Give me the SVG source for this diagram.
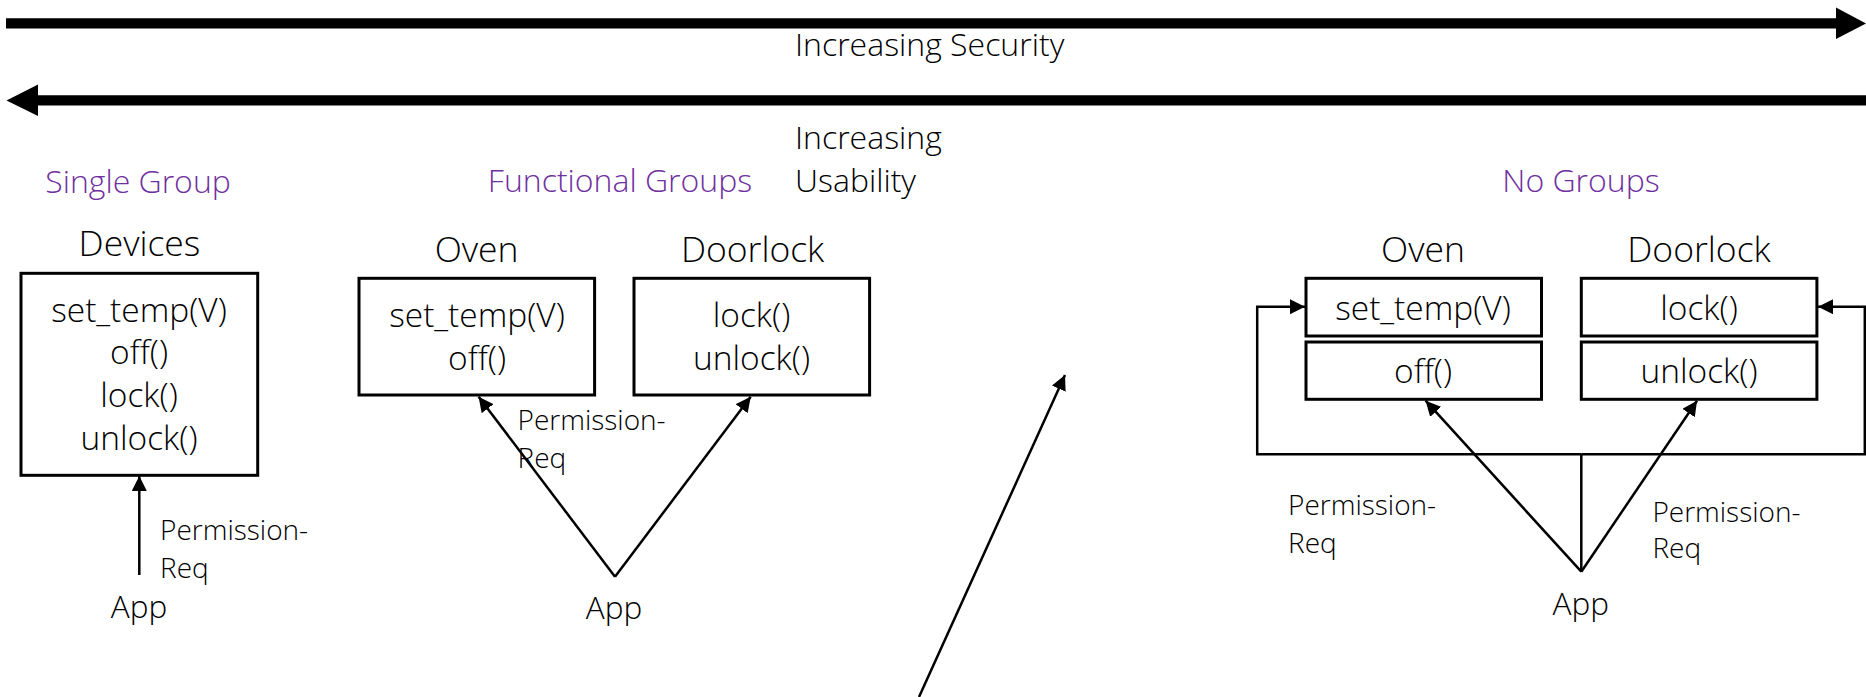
<svg xmlns="http://www.w3.org/2000/svg" width="1866" height="697" viewBox="0 0 1866 697">
  <style>
    text { font-family: "Open Sans", "Liberation Sans", sans-serif; font-weight: 300; fill: #000; }
    .lbl { font-size: 32px; }
    .grp { font-size: 32px; fill: #7030A0; }
    .title { font-size: 35.5px; text-anchor: middle; }
    .fn { font-size: 33.5px; text-anchor: middle; }
    .app { font-size: 31.5px; text-anchor: middle; }
    .perm { font-size: 28px; }
    .mid { text-anchor: middle; }
    .box { fill: #fff; stroke: #000; stroke-width: 3; }
    .wire { fill: none; stroke: #000; stroke-width: 2.5; }
  </style>
  <defs>
    <marker id="head" markerUnits="userSpaceOnUse" markerWidth="16" markerHeight="16" refX="15" refY="7.5" orient="auto">
      <path d="M0,0 L15,7.5 L0,15 z" fill="#000"/>
    </marker>
  </defs>

  <rect width="1866" height="697" fill="#fff"/>

  <!-- scale arrows -->
  <g id="security-axis">
    <polygon points="6,18.3 1836,18.3 1836,7.5 1866,23.4 1836,39 1836,28.5 6,28.5" fill="#000"/>
    <text class="lbl" x="795" y="56">Increasing Security</text>
  </g>
  <g id="usability-axis">
    <polygon points="1866,95.3 38,95.3 38,84.5 6.5,100.4 38,116 38,105.5 1866,105.5" fill="#000"/>
    <text class="lbl" x="795" y="148.5">Increasing</text>
    <text class="lbl" x="795" y="192">Usability</text>
  </g>

  <!-- group headings -->
  <text class="grp mid" x="138" y="193">Single Group</text>
  <text class="grp mid" x="620" y="192">Functional Groups</text>
  <text class="grp mid" x="1581" y="192.3">No Groups</text>

  <!-- single group -->
  <g id="devices">
    <text class="title" x="139.5" y="256">Devices</text>
    <rect class="box" x="21" y="273.3" width="236.7" height="202"/>
    <text class="fn" x="139" y="321.5">set_temp(V)</text>
    <text class="fn" x="139" y="364">off()</text>
    <text class="fn" x="139" y="407">lock()</text>
    <text class="fn" x="139" y="450">unlock()</text>
  </g>
  <g id="app-single">
    <text class="app" x="139" y="618">App</text>
  </g>

  <!-- functional groups -->
  <g id="oven-func">
    <text class="title" x="476.6" y="262">Oven</text>
    <rect class="box" x="359" y="278.3" width="235.6" height="116.7"/>
    <text class="fn" x="477" y="327">set_temp(V)</text>
    <text class="fn" x="477" y="370">off()</text>
  </g>
  <g id="doorlock-func">
    <text class="title" x="752.6" y="262">Doorlock</text>
    <rect class="box" x="634" y="278.3" width="235.6" height="116.7"/>
    <text class="fn" x="751.5" y="327">lock()</text>
    <text class="fn" x="751.5" y="370">unlock()</text>
  </g>
  <g id="app-func">
    <text class="app" x="614" y="619.3">App</text>
  </g>

  <!-- no groups -->
  <g id="oven-none">
    <text class="title" x="1423" y="262">Oven</text>
    <rect class="box" x="1306" y="278.3" width="235.5" height="57.7"/>
    <text class="fn" x="1423" y="319.5">set_temp(V)</text>
    <rect class="box" x="1306" y="342" width="235.5" height="57.3"/>
    <text class="fn" x="1423" y="383">off()</text>
  </g>
  <g id="doorlock-none">
    <text class="title" x="1699" y="262">Doorlock</text>
    <rect class="box" x="1581.3" y="278.3" width="235.6" height="57.7"/>
    <text class="fn" x="1699" y="319.5">lock()</text>
    <rect class="box" x="1581.3" y="342" width="235.6" height="57.3"/>
    <text class="fn" x="1699" y="383">unlock()</text>
  </g>
  <g id="app-none">
    <text class="app" x="1580.7" y="615">App</text>
  </g>

  <!-- connectors -->
  <g id="connectors">
    <line class="wire" x1="139.3" y1="575" x2="139.3" y2="476" marker-end="url(#head)"/>
    <text class="perm" x="160" y="540">Permission-</text>
    <text class="perm" x="160" y="578">Req</text>

    <line class="wire" x1="615" y1="576.7" x2="478.6" y2="396.7" marker-end="url(#head)"/>
    <line class="wire" x1="615" y1="576.7" x2="750.7" y2="396.7" marker-end="url(#head)"/>
    <text class="perm" x="517.5" y="430">Permission-</text>
    <text class="perm" x="517.5" y="468.3">Req</text>

    <line class="wire" x1="919" y1="697" x2="1065" y2="375" marker-end="url(#head)"/>

    <polyline class="wire" points="1581.3,571.7 1581.3,454.3"/>
    <polyline class="wire" points="1581.3,454.3 1257.2,454.3 1257.2,306.7 1305,306.7" marker-end="url(#head)"/>
    <polyline class="wire" points="1581.3,454.3 1864.8,454.3 1864.8,306.7 1818,306.7" marker-end="url(#head)"/>
    <line class="wire" x1="1581.3" y1="571.7" x2="1425.6" y2="400.7" marker-end="url(#head)"/>
    <line class="wire" x1="1581.3" y1="571.7" x2="1697" y2="400.7" marker-end="url(#head)"/>
    <text class="perm" x="1288" y="515">Permission-</text>
    <text class="perm" x="1288" y="553.3">Req</text>
    <text class="perm" x="1652.4" y="521.7">Permission-</text>
    <text class="perm" x="1652.4" y="558.3">Req</text>
  </g>
</svg>
